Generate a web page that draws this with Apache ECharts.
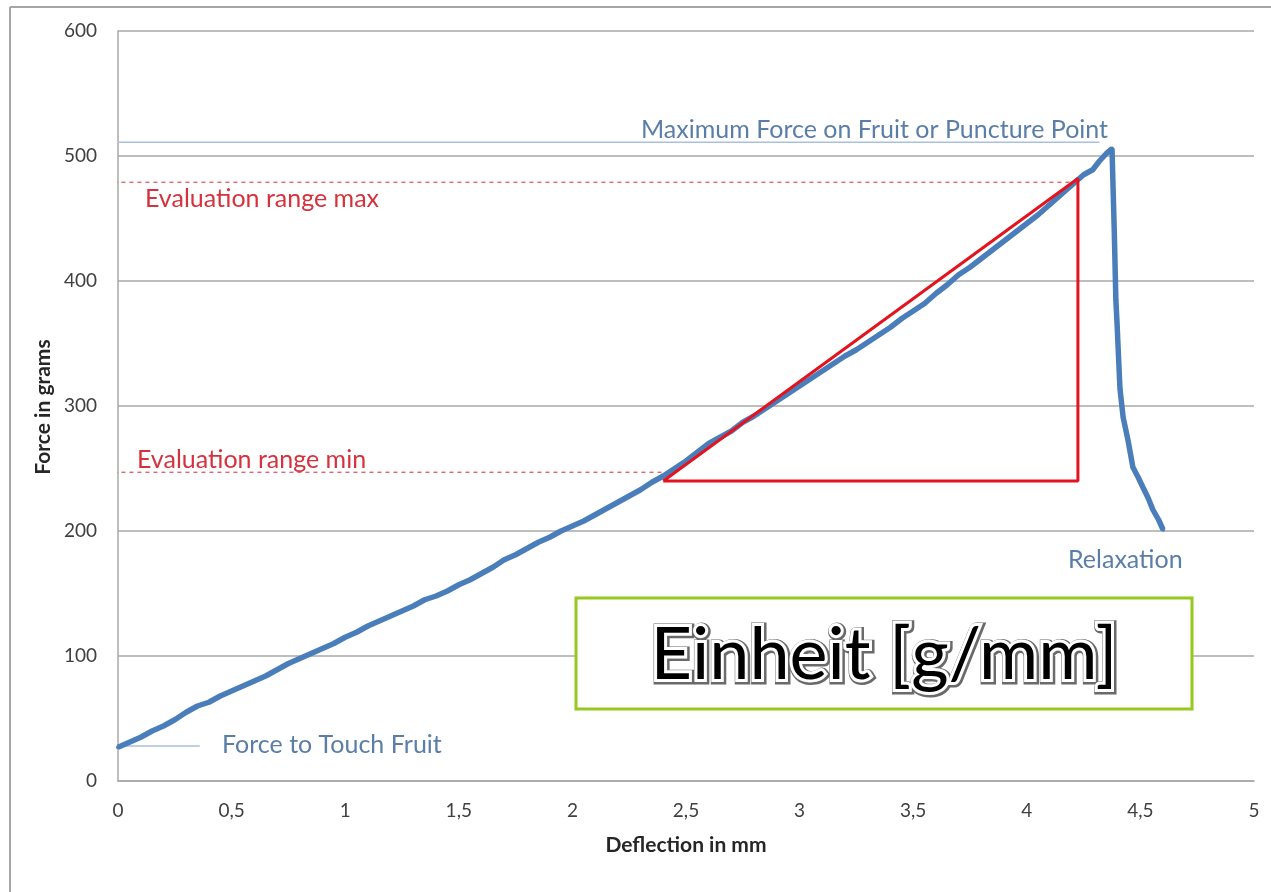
<!DOCTYPE html>
<html>
<head>
<meta charset="utf-8">
<script src="https://cdn.jsdelivr.net/npm/echarts@6/dist/echarts.min.js"></script>
<style>body{margin:0;background:#fff}</style>
</head>
<body>
<div id="main" style="width:1271px;height:892px"></div>
<script>
// measured curve: deflection (mm) / force (g)
var deflection = [0, 0.05, 0.1, 0.15, 0.2, 0.25, 0.3, 0.35, 0.4, 0.45, 0.5, 0.55, 0.6, 0.65, 0.7, 0.75, 0.8, 0.85, 0.9, 0.95,
  1.0, 1.05, 1.1, 1.15, 1.2, 1.25, 1.3, 1.35, 1.4, 1.45, 1.5, 1.55, 1.6, 1.65, 1.7, 1.75, 1.8, 1.85, 1.9, 1.95,
  2.0, 2.05, 2.1, 2.15, 2.2, 2.25, 2.3, 2.35, 2.4, 2.45, 2.5, 2.55, 2.6, 2.65, 2.7, 2.75, 2.8, 2.85, 2.9, 2.95,
  3.0, 3.05, 3.1, 3.15, 3.2, 3.25, 3.3, 3.35, 3.4, 3.45, 3.5, 3.55, 3.6, 3.65, 3.7, 3.75, 3.8, 3.85, 3.9, 3.95,
  4.0, 4.05, 4.1, 4.15, 4.2, 4.25, 4.29, 4.32, 4.35, 4.375, 4.385, 4.392, 4.397, 4.41, 4.424, 4.445, 4.467, 4.49,
  4.511, 4.535, 4.555, 4.58, 4.6];
var force = [27, 31, 35, 40, 44, 49, 55, 60, 63, 68, 72, 76, 80, 84, 89, 94, 98, 102, 106, 110,
  115, 119, 124, 128, 132, 136, 140, 145, 148, 152, 157, 161, 166, 171, 177, 181, 186, 191, 195, 200,
  204, 208, 213, 218, 223, 228, 233, 239, 244, 250, 256, 263, 270, 275, 280, 287, 292, 298, 304, 310,
  316, 322, 328, 334, 340, 345, 351, 357, 363, 370, 376, 382, 390, 397, 405, 411, 418, 425, 432, 439,
  446, 453, 461, 469, 477, 485, 489, 496, 502, 506, 440, 385, 367, 314, 291, 273, 251, 243,
  235, 226, 217, 209, 201];

// slope triangle and reference levels
var triangleX = [2.40, 4.225, 4.225, 2.40];
var triangleY = [240, 482, 240, 240];
var evalMax = 479, evalMaxEnd = 4.2;
var evalMin = 247, evalMinEnd = 2.4;
var maxForce = 511, maxForceEnd = 4.32;
var touchForce = 28;

function zip(a, b) { return a.map(function (v, i) { return [v, b[i]]; }); }

var chart = echarts.init(document.getElementById('main'));
var txtBlue = '#5a7ea8', txtRed = '#d6323e', font = 'Lato';

function note(x, y, text, color) {
  return { type: 'text', x: x, y: y, style: { text: text, font: '25px Lato', fill: color, verticalAlign: 'middle' } };
}

var option = {
  animation: false,
  grid: { left: 118, right: 17, top: 31, bottom: 111 },
  xAxis: {
    type: 'value', min: 0, max: 5, interval: 0.5,
    axisLine: { lineStyle: { color: '#a8a8a8', width: 1.5 } },
    axisTick: { show: false },
    splitLine: { show: false },
    axisLabel: {
      margin: 20, fontSize: 19, fontFamily: font, color: '#404040',
      formatter: function (v) { return String(v).replace('.', ','); }
    }
  },
  yAxis: {
    type: 'value', min: 0, max: 600, interval: 100,
    axisLine: { show: true, lineStyle: { color: '#a8a8a8', width: 1.5 } },
    axisTick: { show: false },
    splitLine: { lineStyle: { color: '#a8a8a8', width: 1.5 } },
    axisLabel: { margin: 21, fontSize: 19, fontFamily: font, color: '#404040' }
  },
  series: [
    {
      type: 'line', data: [[0, maxForce], [maxForceEnd, maxForce]], clip: false,
      symbol: 'none', lineStyle: { color: '#a9c1de', width: 1.5 }, z: 1
    },
    {
      type: 'line', data: [[-0.18, touchForce], [0.36, touchForce]], clip: false,
      symbol: 'none', lineStyle: { color: '#a9c1de', width: 1.5 }, z: 1
    },
    {
      type: 'line', data: [[-0.02, evalMax], [evalMaxEnd, evalMax]], clip: false,
      symbol: 'none', lineStyle: { color: '#d9505c', width: 1.2, type: [4, 4] }, z: 1
    },
    {
      type: 'line', data: [[-0.02, evalMin], [evalMinEnd, evalMin]], clip: false,
      symbol: 'none', lineStyle: { color: '#d9505c', width: 1.2, type: [4, 4] }, z: 1
    },
    {
      type: 'line', data: zip(deflection, force),
      symbol: 'circle', symbolSize: 4, showSymbol: true,
      itemStyle: { color: '#4a7ebb' },
      lineStyle: { color: '#4a7ebb', width: 5.5 }, z: 3
    },
    {
      type: 'line', data: zip(triangleX, triangleY),
      symbol: 'none', lineStyle: { color: '#e3141e', width: 3 }, z: 4
    }
  ],
  graphic: [
    { type: 'line', shape: { x1: 10, y1: 7, x2: 1271, y2: 7 }, style: { stroke: '#a6a6a6', lineWidth: 2 } },
    { type: 'line', shape: { x1: 10, y1: 7, x2: 10, y2: 892 }, style: { stroke: '#a6a6a6', lineWidth: 2 } },
    { type: 'text', x: 686, y: 845, style: { text: 'Deflection in mm', font: 'bold 21px Lato', fill: '#262626', align: 'center', verticalAlign: 'middle' } },
    { type: 'text', x: 43, y: 407, rotation: Math.PI / 2, style: { text: 'Force in grams', font: 'bold 21px Lato', fill: '#262626', align: 'center', verticalAlign: 'middle' } },
    note(641, 130, 'Maximum Force on Fruit or Puncture Point', txtBlue),
    note(145, 199, 'Evaluation range max', txtRed),
    note(137, 460, 'Evaluation range min', txtRed),
    note(1068, 560, 'Relaxation', txtBlue),
    note(222, 745, 'Force to Touch Fruit', txtBlue),
    { type: 'rect', shape: { x: 576, y: 598, width: 616, height: 111 }, style: { fill: '#fff', stroke: '#96c81e', lineWidth: 3 }, z: 10 },
    {
      type: 'text', x: 885, y: 657, z: 11,
      style: {
        text: 'Einheit [g/mm]', font: '72px Lato', align: 'center', verticalAlign: 'middle',
        fill: '#777', stroke: '#6a6a6a', lineWidth: 9,
        shadowBlur: 3, shadowColor: 'rgba(0,0,0,0.5)', shadowOffsetX: 1, shadowOffsetY: 2
      }
    },
    {
      type: 'text', x: 884, y: 656, z: 12,
      style: {
        text: 'Einheit [g/mm]', font: '72px Lato', align: 'center', verticalAlign: 'middle',
        fill: '#fff', stroke: '#fff', lineWidth: 6
      }
    },
    {
      type: 'text', x: 884, y: 656, z: 13,
      style: {
        text: 'Einheit [g/mm]', font: '72px Lato', align: 'center', verticalAlign: 'middle',
        fill: new echarts.graphic.LinearGradient(0, 0, 0, 1, [
          { offset: 0, color: '#000' }, { offset: 0.48, color: '#1e1e1e' },
          { offset: 0.55, color: '#7a7a7a' }, { offset: 0.7, color: '#222' }, { offset: 1, color: '#000' }
        ])
      }
    }
  ]
};
chart.setOption(option);
</script>
</body>
</html>
